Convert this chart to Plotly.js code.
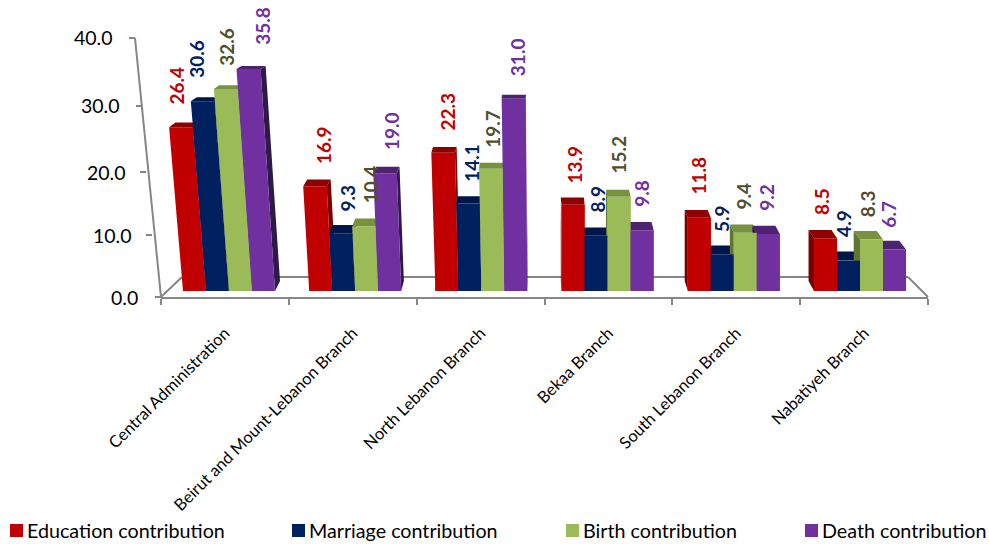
<!DOCTYPE html>
<html><head><meta charset="utf-8">
<script src="https://cdn.plot.ly/plotly-3.0.1.min.js"></script>
<style>html,body{margin:0;padding:0;background:#fff}</style></head>
<body><div id="chart" style="width:989px;height:544px"></div>
<script>
// ---- data ----
const categories = ["Central Administration","Beirut and Mount-Lebanon Branch","North Lebanon Branch","Bekaa Branch","South Lebanon Branch","Nabatiyeh Branch"];
const education = [26.4,16.9,22.3,13.9,11.8,8.5];
const marriage  = [30.6,9.3,14.1,8.9,5.9,4.9];
const birth     = [32.6,10.4,19.7,15.2,9.4,8.3];
const death     = [35.8,19.0,31.0,9.8,9.2,6.7];
const seriesNames = ["Education contribution","Marriage contribution","Birth contribution","Death contribution"];
const yTickValues = [0,10,20,30,40];

// ---- styles ----
const FONT = "Lato, Carlito, Calibri, sans-serif";
const fills = ["#C00000","#002060","#9BBB59","#7030A0"];
const caps  = ["#8E0000","#001548","#76923C","#4F2272"];
const sides = ["#780000","#001038","#5F7530","#2E1A47"];
const labelColors = ["#C00000","#002060","#4F4F2D","#7030A0"];
const AXIS = "#868686";

// ---- picture geometry ----
const W=989,H=544;
const px=x=>x/W, py=y=>1-y/H;
const G0=229,GSTEP=126.2,BARPX=23,BASE=291,UNIT=6.2,LABELUNIT=6.25;
const leanOf=x=>Math.max(0,0.085-(x-183)*0.00022);   // perspective lean of a front-face edge
const dxOf=x=>0.0186*(544-x), dyOf=y=>0.031*(y+32);
// hand nudges of the data labels, px from bar-top centre
const nudgeX=[[-18.5,3,1,1,-1,-3.5],[-20.5,4,2,1,-1,-4.5],[-13.5,4,0,-1,-2,-4.5],[-0.5,2,1,0,-2,-5.5]];
const nudgeY=[[-40.5,-40,-40,-39.6,-42,-36],[-41,-35,-40,-36,-35.5,-36.5],[-40.5,-41.5,-39,-41.5,-36,-35],[-41.5,-41,-40,-36,-36,-34.5]];
// slanted value axis
const yTickPxY=[297,235,172,106,38], yTickPxX=[161,152,146,142,135], yLabelRight=[138,132,126,120,113];

const all=[education,marriage,birth,death];
const xData=p=>(p-G0)/GSTEP, yData=p=>(BASE-p)/UNIT;
const idx=categories.map((c,i)=>i);
const traces=[{type:"scatter",mode:"none",x:idx,y:idx.map(()=>0),xaxis:"x",yaxis:"y",hoverinfo:"skip",showlegend:false}];
const annotations=[],shapes=[];
const offsets=[],widths=[];

all.forEach((vals,j)=>{
  const cx=[],cy=[],sx=[],sy=[],fx=[],fy=[],offs=[],wid=[];
  vals.forEach((v,g)=>{
    const h=v*UNIT, mid=G0+GSTEP*g+(j-1.5)*BARPX, top=BASE-h;
    const lb=mid-BARPX/2, rb=mid+BARPX/2;           // front edges at the floor
    const lt=lb-leanOf(lb)*h, rt=rb-leanOf(rb)*h;   // front edges at the bar top
    const il=Math.max(lb,lt), ir=Math.min(rb,rt);   // upright core drawn as the bar itself
    offs.push((il-(G0+GSTEP*g))/GSTEP); wid.push((ir-il)/GSTEP);
    // lean slivers on both sides of the core
    fx.push(xData(lb),xData(il+1),xData(il+1),xData(lt),null, xData(ir-1),xData(ir-1),xData(rt),xData(rb),null);
    fy.push(0,0,v,v,null, 0,v,v,0,null);
    // top cap and visible side face
    const dxT=dxOf(rb), dyT=dyOf(top), dyB=dyOf(BASE);
    cx.push(xData(lt),xData(rt),xData(rt+dxT),xData(lt+dxT),null);
    cy.push(v,v,yData(top-dyT),yData(top-dyT),null);
    const eb=dxT>=0?rb:lb, et=dxT>=0?rt:lt;
    sx.push(xData(eb),xData(et),xData(et+dxT),xData(eb+dxT),null);
    sy.push(0,v,yData(top-dyT),yData(BASE-dyB),null);
    annotations.push({xref:"x2",yref:"y2",x:xData(mid),y:v,xshift:nudgeX[j][g],yshift:-nudgeY[j][g]+(LABELUNIT-UNIT)*v,
      text:"<b>"+v.toFixed(1)+"</b>",textangle:-90,showarrow:false,xanchor:"center",yanchor:"middle",
      font:{family:FONT,size:19,color:labelColors[j]}});
  });
  const poly=(x,y,c)=>traces.push({type:"scatter",mode:"lines",x,y,fill:"toself",fillcolor:c,line:{width:0},xaxis:"x2",yaxis:"y2",hoverinfo:"skip",showlegend:false});
  poly(sx,sy,sides[j]); poly(cx,cy,caps[j]); poly(fx,fy,fills[j]);
  offsets.push(offs); widths.push(wid);
});
all.forEach((vals,j)=>{
  traces.push({type:"bar",name:seriesNames[j],x:idx,y:vals,offset:offsets[j],width:widths[j],
    marker:{color:fills[j],line:{width:0}},xaxis:"x3",yaxis:"y3",showlegend:false});
});

// floor and slanted value axis
const line=(x0,y0,x1,y1,w=2)=>shapes.push({type:"line",xref:"paper",yref:"paper",layer:"below",x0:px(x0),y0:py(y0),x1:px(x1),y1:py(y1),line:{color:AXIS,width:w}});
line(182,277,908,277); line(161,297,182,277); line(928,297,908,277);
line(161,297,135,38);
yTickValues.forEach((t,i)=>{
  line(yTickPxX[i]-6,yTickPxY[i],yTickPxX[i],yTickPxY[i]);
  annotations.push({xref:"paper",yref:"paper",x:px(yLabelRight[i]+2),y:py(yTickPxY[i]),text:t.toFixed(1),showarrow:false,
    xanchor:"right",yanchor:"middle",font:{family:FONT,size:19.5,color:"#000"}});
});

// legend row
const legX=[10,292,566,805];
seriesNames.forEach((n,j)=>{
  shapes.push({type:"rect",xref:"paper",yref:"paper",x0:px(legX[j]),x1:px(legX[j]+13),y0:py(537),y1:py(524),fillcolor:fills[j],line:{width:0}});
  annotations.push({xref:"paper",yref:"paper",x:px(legX[j]+15),y:py(530),text:n,showarrow:false,xanchor:"left",yanchor:"middle",
    font:{family:FONT,size:19.7,color:"#000"}});
});

const layout={
  width:W,height:H,margin:{l:0,r:0,t:0,b:0},paper_bgcolor:"#fff",plot_bgcolor:"rgba(0,0,0,0)",
  barmode:"overlay",showlegend:false,shapes,annotations,
  xaxis:{domain:[px(161),px(928)],range:[-0.5,5.5],tickmode:"array",tickvals:idx,ticktext:categories,
    tickangle:-45,ticks:"",ticklabelstandoff:18,showgrid:false,zeroline:false,showline:true,linecolor:AXIS,linewidth:2,
    tickfont:{family:FONT,size:16.5,color:"#000"},anchor:"y",
    minor:{tickmode:"array",tickvals:[-0.5,0.5,1.5,2.5,3.5,4.5,5.5],ticks:"outside",ticklen:6,tickcolor:AXIS,tickwidth:2,showgrid:false}},
  yaxis:{domain:[py(297),py(38)],range:[0,40],visible:false,anchor:"x"},
  xaxis2:{domain:[0,1],range:[xData(0),xData(W)],visible:false,anchor:"y2"},
  yaxis2:{domain:[0,1],range:[yData(H),yData(0)],visible:false,anchor:"x2"},
  xaxis3:{domain:[0,1],range:[xData(0),xData(W)],visible:false,anchor:"y3",overlaying:"x2"},
  yaxis3:{domain:[0,1],range:[yData(H),yData(0)],visible:false,anchor:"x3",overlaying:"y2"}
};
Plotly.newPlot("chart",traces,layout,{displayModeBar:false,responsive:false});
</script></body></html>
